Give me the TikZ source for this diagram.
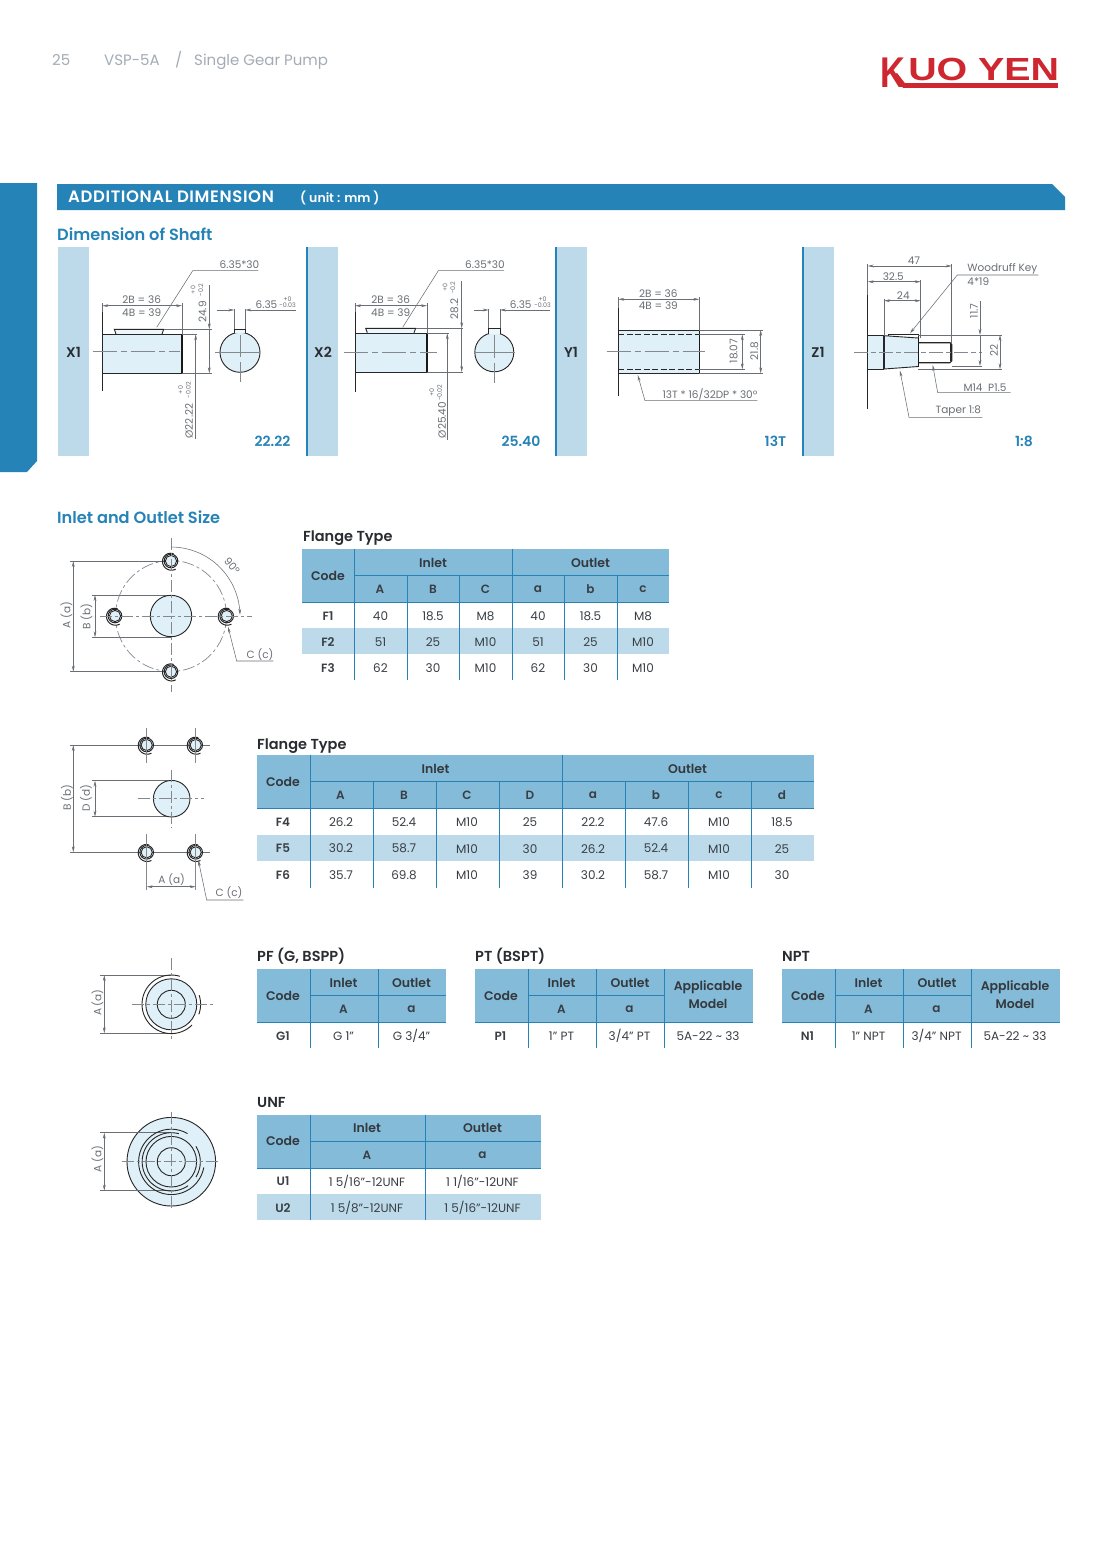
\documentclass[tikz,border=0pt]{standalone}
\usepackage{fontspec}
\usetikzlibrary{arrows.meta}
\setmainfont{Poppins}[BoldFont=* SemiBold]
\newfontfamily\logofont{Liberation Sans}[Scale=1]
\definecolor{deep}{HTML}{2583B7}
\definecolor{hdr}{HTML}{84BBD9}
\definecolor{lite}{HTML}{BCDAE9}
\definecolor{shaft}{HTML}{DFF0F8}
\definecolor{dimc}{HTML}{6A6F75}
\definecolor{cline}{HTML}{85888C}
\definecolor{txtc}{HTML}{3A3F45}
\definecolor{greyt}{HTML}{A3ACB5}
\definecolor{logo}{HTML}{CE2730}
\newcount\nodeno
\newcommand{\fs}[1]{\fontsize{#1}{#1}\selectfont}
% text helper: x, y, style, text
\newcommand{\lab}[4]{\global\advance\nodeno by 1 \node[inner sep=0pt,#3] (t\the\nodeno) at (#1,#2) {#4};}
\newcommand{\dl}[3]{\lab{#1}{#2}{dimt,rotate=90}{#3}}
\newcommand{\spiral}[7][ink]{\draw[#1,smooth] plot[domain=#6:#7,samples=40] ({#2+(#4+(#5-#4)*(\x-#6)/(#7-#6))*cos(\x)},{#3-(#4+(#5-#4)*(\x-#6)/(#7-#6))*sin(\x)});}
\newcommand{\bolt}[2]{%
  \draw[ink,fill=shaft] (#1,#2) circle[radius=5.6];
  \draw[ink,line width=1pt] (#1,#2) circle[radius=6.8];
  \spiral[ink,line width=1pt]{#1}{#2}{7.6}{9.4}{70}{300}
}
\newcommand{\vl}[3]{\draw[tline] (#1,#2)--(#1,#3);}
\newcommand{\hl}[3]{\draw[tline] (#2,#1)--(#3,#1);}
\tikzset{
  ink/.style={black!85,line width=0.9pt},
  thick ink/.style={black!90,line width=1.6pt},
  thin dim/.style={dimc,line width=0.55pt},
  arr/.style={thin dim,-{Stealth[length=6pt,width=2.8pt]}},
  darr/.style={thin dim,{Stealth[length=6pt,width=2.8pt]}-{Stealth[length=6pt,width=2.8pt]}},
  cl/.style={cline,line width=0.8pt,dash pattern=on 24pt off 4pt on 6pt off 4pt},
  cld/.style={cline,line width=0.7pt,dash pattern=on 12pt off 3pt on 3pt off 3pt},
  cls/.style={cline,line width=0.7pt},
  dimt/.style={text=dimc,font=\fs{10.5}},
  tolt/.style={text=dimc,font=\fs{6.3}},
  tline/.style={deep,line width=1pt},
  cell/.style={text=txtc,font=\fs{12},yshift=-0.6pt},
  bcell/.style={text=txtc,font=\fs{12}\bfseries,yshift=-0.6pt},
  head/.style={text=txtc!90!black,font=\fs{12.5}\bfseries},
  sect/.style={anchor=west,text=deep,font=\fs{16.2}\bfseries},
  ttl/.style={anchor=base west,text=txtc!70!black,font=\fs{14.5}\bfseries},
  tag/.style={text=txtc!70!black,font=\fs{14}\bfseries},
  tagb/.style={text=deep,font=\fs{14}\bfseries},
  page/.style={anchor=base west,text=greyt,font=\fs{15}},
}
\begin{document}
\begin{tikzpicture}[x=1pt,y=-1pt]
\useasboundingbox (0,0) rectangle (1102,1559);
\fill[white] (0,0) rectangle (1102,1559);
% page head
\lab{52}{65}{page}{25}
\lab{104}{65}{page}{VSP-5A}
\lab{175}{65}{page}{/}
\lab{194}{65}{page}{Single Gear Pump}
% logo
\fill[logo] (905,83.3) rectangle (1058,87.8);
\fill[logo] (897,73) -- (905,83.3) -- (905,87.8) -- (903,87.8) -- (893,75) -- cycle;
\lab{880}{87.7}{anchor=base west,text=logo,font=\logofont\fs{43}\bfseries,xscale=0.8}{K}
\lab{908}{80.7}{anchor=base west,text=logo,font=\logofont\fs{32}\bfseries,xscale=1.23}{UO YEN}
% banners
\fill[deep] (0,183) -- (37,183) -- (37,461) -- (27,472) -- (0,472) -- cycle;
\fill[deep] (57,184) -- (1052,184) -- (1065,197) -- (1065,210) -- (57,210) -- cycle;
\lab{68}{197}{anchor=west,text=white,font=\fs{16.5}\bfseries\addfontfeatures{LetterSpace=3.8}}{ADDITIONAL DIMENSION}
\lab{300}{197.5}{anchor=west,text=white,font=\fs{12.5}\bfseries}{( unit : mm )}
\lab{57}{234}{sect}{Dimension of Shaft}
\lab{57}{517}{sect}{Inlet and Outlet Size}
% shaft bands
\fill[lite] (58,247) rectangle (89,456);
\fill[lite] (308,247) rectangle (338,456);
\fill[lite] (557,247) rectangle (587,456);
\fill[lite] (804,247) rectangle (834,456);
\draw[deep,line width=1.3pt] (307,247)--(307,456);
\draw[deep,line width=1.3pt] (556,247)--(556,456);
\draw[deep,line width=1.3pt] (803,247)--(803,456);
\lab{73.5}{352}{tag}{X1}
\lab{323}{352}{tag}{X2}
\lab{571}{352}{tag}{Y1}
\lab{818}{352}{tag}{Z1}
\lab{272.5}{441}{tagb}{22.22}
\lab{521}{441}{tagb}{25.40}
\lab{775.5}{441}{tagb}{13T}
\lab{1024}{441}{tagb}{1:8}
%% X1
\fill[shaft] (102.3,334.3) rectangle (182,373.3);
\draw[ink,fill=shaft!60] (116,334) -- (114.3,329.3) -- (163.7,329.3) -- (162,334);
\draw[ink] (102.3,334.3) -- (182,334.3);
\draw[ink] (102.3,373.3) -- (182,373.3);
\draw[thick ink] (182,334.3)--(182,373.3);
\draw[ink] (102.3,311.7)--(102.3,391);
\draw[cl] (92.7,351.7)--(180,351.7);
\draw[thin dim] (102.3,303)--(102.3,311.7);
\draw[thin dim] (182,303)--(182,334.3);
\draw[darr] (102.3,305.7)--(182,305.7);
\lab{141.7}{300}{dimt}{2B = 36}
\lab{141.7}{312.7}{dimt}{4B = 39}
\draw[thin dim] (156.7,327.3)--(192.7,270.7)--(258.3,270.7);
\lab{239.5}{264.5}{dimt}{6.35*30}
\draw[thin dim] (163.7,329.3)--(211.7,329.3);
\draw[thin dim] (182,373.3)--(211.7,373.3);
\draw[thin dim,{Stealth[length=6pt,width=2.8pt]}-] (209.3,329.3)--(209.3,285);
\draw[arr] (209.3,329.3)--(209.3,373.3);
\dl{202.5}{312}{24.9}
\lab{197}{290}{tolt,rotate=90}{\shortstack{+0\\-0.2}}
\draw[thin dim] (182,334.3)--(197,334.3);
\draw[thin dim,{Stealth[length=6pt,width=2.8pt]}-] (195.7,334.3)--(195.7,439.3);
\draw[thin dim] (182,373.3)--(195.7,373.3);
\dl{189}{421}{Ø22.22}
\lab{184.5}{390}{tolt,rotate=90}{\shortstack{+0\\-0.02}}
\draw[ink,fill=shaft] (240,352.3) circle[radius=20];
\draw[ink,fill=shaft!60] (234.3,332.9)--(234.3,329.3)--(245.3,329.3)--(245.3,332.9);
\draw[cls] (240,335)--(240,357);
\draw[cls] (240,362)--(240,382);
\draw[cls] (215,352.3)--(260,352.3);
\draw[thin dim] (234.3,309.3)--(234.3,329.3);
\draw[thin dim] (245.3,309.3)--(245.3,329.3);
\draw[arr] (216.7,310)--(234.3,310);
\draw[arr] (296,310)--(245.3,310);
\lab{266.5}{305}{dimt}{6.35}
\lab{287.5}{299.5}{tolt}{+0}
\lab{287.5}{305.5}{tolt}{-0.03}
%% X2
\fill[shaft] (355,333.3) rectangle (427,372);
\draw[ink,fill=shaft!60] (367.3,332.7) -- (365.7,328.3) -- (415.7,328.3) -- (414,332.7);
\draw[ink] (355,333.3)--(427,333.3);
\draw[ink] (355,372)--(427,372);
\draw[thick ink] (427,333.3)--(427,372);
\draw[ink] (355,311.7)--(355,391.7);
\draw[cl] (344,352)--(437,352);
\draw[thin dim] (355,303)--(355,311.7);
\draw[thin dim] (427,303)--(427,333.3);
\draw[darr] (355,305.7)--(427,305.7);
\lab{390.7}{299.5}{dimt}{2B = 36}
\lab{390.7}{312.5}{dimt}{4B = 39}
\draw[thin dim] (402.7,327.3)--(438.3,270.7)--(504,270.7);
\lab{485}{264.5}{dimt}{6.35*30}
\draw[thin dim] (415.7,328.3)--(463.3,328.3);
\draw[thin dim] (427,372)--(463.3,372);
\draw[thin dim,{Stealth[length=6pt,width=2.8pt]}-] (461.7,328.3)--(461.7,281);
\draw[arr] (461.7,328.3)--(461.7,372);
\dl{454.3}{309}{28.2}
\lab{449}{287.7}{tolt,rotate=90}{\shortstack{+0\\-0.2}}
\draw[thin dim] (427,333.3)--(449,333.3);
\draw[thin dim,{Stealth[length=6pt,width=2.8pt]}-] (447.3,333.3)--(447.3,440);
\draw[thin dim] (427,372)--(447.3,372);
\dl{442}{420}{Ø25.40}
\lab{435.7}{392.7}{tolt,rotate=90}{\shortstack{+0\\-0.02}}
\draw[ink,fill=shaft] (494.3,352.3) circle[radius=19.5];
\draw[ink,fill=shaft!60] (488.7,333.5)--(488.7,328.3)--(500,328.3)--(500,333.5);
\draw[cls] (494.3,335)--(494.3,358);
\draw[cls] (494.3,363)--(494.3,383);
\draw[cls] (474,352.3)--(515,352.3);
\draw[thin dim] (488.7,309.3)--(488.7,328.3);
\draw[thin dim] (500,309.3)--(500,328.3);
\draw[arr] (474,310)--(488.7,310);
\draw[arr] (550,310)--(500,310);
\lab{520.7}{305}{dimt}{6.35}
\lab{542.5}{299.5}{tolt}{+0}
\lab{542.5}{305.5}{tolt}{-0.03}
%% Y1
\fill[shaft] (618.3,330) rectangle (699.3,373.3);
\draw[ink] (618.3,330)--(699.3,330);
\draw[ink] (618.3,373.3)--(699.3,373.3);
\draw[ink,dash pattern=on 6pt off 2.5pt] (618.3,334.3)--(699.3,334.3);
\draw[ink,dash pattern=on 6pt off 2.5pt] (618.3,369.3)--(699.3,369.3);
\draw[thick ink] (699.3,330)--(699.3,373.3);
\draw[ink] (618.3,308.3)--(618.3,396);
\draw[cl] (606.7,351.7)--(705,351.7);
\draw[thin dim] (618.3,297)--(618.3,308.3);
\draw[thin dim] (699.3,297)--(699.3,330);
\draw[darr] (618.3,299.3)--(699.3,299.3);
\lab{658.3}{294}{dimt}{2B = 36}
\lab{658.3}{306}{dimt}{4B = 39}
\draw[thin dim] (699.3,330)--(763.3,330);
\draw[thin dim] (699.3,373.3)--(763.3,373.3);
\draw[thin dim] (699.3,334.3)--(745,334.3);
\draw[thin dim] (699.3,369.3)--(745,369.3);
\draw[darr] (742.3,334.3)--(742.3,369.3);
\draw[darr] (760.7,330)--(760.7,373.3);
\dl{733.5}{351}{18.07}
\dl{754.3}{351}{21.8}
\draw[arr] (757.3,400.7)--(645,400.7)--(637.7,375);
\lab{710}{394}{dimt}{13T * 16/32DP * 30º}
%% Z1
\fill[shaft] (867.7,335.7) rectangle (884,369);
\fill[shaft] (884,335.7) -- (918.3,338) -- (918.3,366.5) -- (884,369) -- cycle;
\draw[ink] (867.7,335.7)--(884,335.7);
\draw[ink] (867.7,369)--(884,369);
\draw[ink,line width=1.1pt] (884,335.7)--(884,369);
\draw[ink] (884,335.7)--(918.3,338);
\draw[ink] (884,369)--(918.3,366.5);
\draw[ink] (888.3,335.7)--(888.3,334.3)--(918.3,334.3)--(918.3,338);
\draw[thick ink] (918.3,338)--(918.3,366.5);
\draw[ink,line width=1.1pt] (918.3,342.7)--(950,342.7)--(951.7,344.5)--(951.7,361)--(950,362.7)--(918.3,362.7);
\draw[ink] (950,344.2)--(950,361.2);
\draw[ink] (867.7,295)--(867.7,409);
\draw[cl,dash pattern=on 14pt off 3pt on 5pt off 3pt] (854,352.3)--(981.7,352.3);
\draw[thin dim] (867.7,264)--(867.7,295);
\draw[thin dim] (951.7,264)--(951.7,342.7);
\draw[thin dim] (920.7,280)--(920.7,338);
\draw[thin dim] (884,299)--(884,335);
\draw[darr] (867.7,266)--(951.7,266);
\draw[darr] (867.7,281.7)--(920.7,281.7);
\draw[darr] (884,300.7)--(920.7,300.7);
\lab{914}{261}{dimt}{47}
\lab{893.3}{277}{dimt}{32.5}
\lab{903.3}{296}{dimt}{24}
\draw[arr] (1038.3,275)--(957.3,275)--(910,333.3);
\lab{1002.3}{269.3}{dimt}{Woodruff Key}
\lab{978.3}{281.7}{dimt}{4*19}
\draw[thin dim] (918.3,335)--(1001.7,335);
\draw[thin dim] (918.3,369.3)--(1001.7,369.3);
\draw[thin dim] (951.7,366)--(982,366);
\draw[thin dim,{Stealth[length=6pt,width=2.8pt]}-] (980,335)--(980,301);
\draw[arr] (980,335)--(980,366);
\dl{974}{311}{11.7}
\draw[darr] (1000,335)--(1000,369.3);
\dl{994}{350.7}{22}
\draw[arr] (1010.7,392.7)--(937.7,392.7)--(932.7,365);
\lab{985}{387.3}{dimt}{M14\ \ P1.5}
\draw[arr] (982.3,417.3)--(909,417.3)--(900,370.7);
\lab{958.3}{411}{dimt}{Taper 1:8}
%% Flange view 1
\draw[cld] (171,616) circle[radius=55.5];
\draw[thin dim] (70,561)--(171,561);
\draw[thin dim] (70,671.7)--(171,671.7);
\draw[thin dim] (91.7,595)--(171,595);
\draw[thin dim] (91.7,637.3)--(171,637.3);
\draw[darr] (73.3,561)--(73.3,671.7);
\draw[darr] (95,595)--(95,637.3);
\dl{66.5}{615}{A (a)}
\dl{86.5}{617}{B (b)}
\draw[ink,fill=shaft] (171,616) circle[radius=20.7];
\bolt{171}{561}\bolt{115}{616}\bolt{226.7}{616}\bolt{171}{671.7}
\draw[cld] (171,538)--(171,692);
\draw[cld] (100,616)--(251.7,616);
\draw[arr,smooth] plot[domain=90:1,samples=30] ({171+69*cos(\x)},{616-69*sin(\x)});
\lab{232}{565.5}{dimt,rotate=-50}{90º}
\draw[arr] (273.3,661)--(236.7,661)--(228,626.7);
\lab{260}{654.5}{dimt}{C (c)}
%% Flange view 2
\draw[thin dim] (70,745)--(210,745);
\draw[thin dim] (70,852.3)--(210,852.3);
\draw[thin dim] (91.7,780.7)--(171.7,780.7);
\draw[thin dim] (91.7,816.7)--(171.7,816.7);
\draw[darr] (73.3,745)--(73.3,852.3);
\draw[darr] (95,780.7)--(95,816.7);
\dl{67}{798}{B (b)}
\dl{86}{798}{D (d)}
\draw[ink,fill=shaft] (171.7,798.7) circle[radius=18.3];
\bolt{146.7}{745}\bolt{195.7}{745}\bolt{146.7}{852.3}\bolt{195.7}{852.3}
\draw[cls] (146.7,728)--(146.7,763);
\draw[cls] (195.7,728)--(195.7,763);
\draw[cls] (146.7,834)--(146.7,890);
\draw[cls] (195.7,834)--(195.7,890);
\draw[cld] (171.7,770)--(171.7,828);
\draw[cld] (138,798.7)--(204,798.7);
\draw[darr] (146.7,886.7)--(195.7,886.7);
\lab{171.7}{879.5}{dimt}{A (a)}
\draw[arr] (243.3,900)--(206.7,900)--(198.3,860);
\lab{229}{892.7}{dimt}{C (c)}
%% G port
\draw[thin dim] (100,975)--(171.3,975);
\draw[thin dim] (100,1033.3)--(171.3,1033.3);
\draw[darr] (104.3,975)--(104.3,1033.3);
\dl{97.5}{1002.7}{A (a)}
\draw[ink,fill=shaft] (171.3,1004.3) circle[radius=25.5];
\draw[ink] (171.3,1004.3) circle[radius=14];
\spiral{171.3}{1004.3}{29.3}{29.3}{73}{315}
\spiral{171.3}{1004.3}{29.3}{29.3}{-20}{18}
\draw[cld] (171.3,958)--(171.3,1040.7);
\draw[cld] (131.7,1004.3)--(213.3,1004.3);
%% U port
\draw[ink,fill=shaft] (171.3,1161.7) circle[radius=44.3];
\draw[thin dim] (100,1132.7)--(171.3,1132.7);
\draw[thin dim] (100,1190.7)--(171.3,1190.7);
\draw[darr] (104.3,1132.7)--(104.3,1190.7);
\dl{97.5}{1159}{A (a)}
\draw[ink] (171.3,1161.7) circle[radius=25.3];
\draw[ink] (171.3,1161.7) circle[radius=14];
\spiral{171.3}{1161.7}{29}{29.3}{75}{305}
\spiral{171.3}{1161.7}{29}{29}{-32}{32}
\spiral{171.3}{1161.7}{32.5}{33}{60}{350}
\draw[cld] (171.3,1111.7)--(171.3,1208);
\draw[cld] (121.7,1161.7)--(220,1161.7);
%% Table 1
\lab{303}{541}{ttl}{Flange Type}
\fill[hdr] (302,549) rectangle (669,602);
\fill[lite] (302,628) rectangle (669,654);
\hl{575.5}{354}{669}\hl{602}{302}{669}
\vl{354}{549}{680}\vl{512}{549}{680}
\foreach \x in {407,459,564,617} {\vl{\x}{576}{680}}
\lab{328}{575.5}{head}{Code}
\lab{433}{562.5}{head}{Inlet}
\lab{590.5}{562.5}{head}{Outlet}
\lab{380}{589}{bcell}{A}\lab{433}{589}{bcell}{B}\lab{485.5}{589}{bcell}{C}
\lab{538}{589}{bcell}{a}\lab{590.5}{589}{bcell}{b}\lab{643}{589}{bcell}{c}
\lab{328}{615.5}{bcell}{F1}\lab{380.5}{615.5}{cell}{40}\lab{433}{615.5}{cell}{18.5}\lab{485.5}{615.5}{cell}{M8}\lab{538}{615.5}{cell}{40}\lab{590.5}{615.5}{cell}{18.5}\lab{643}{615.5}{cell}{M8}
\lab{328}{641.5}{bcell}{F2}\lab{380.5}{641.5}{cell}{51}\lab{433}{641.5}{cell}{25}\lab{485.5}{641.5}{cell}{M10}\lab{538}{641.5}{cell}{51}\lab{590.5}{641.5}{cell}{25}\lab{643}{641.5}{cell}{M10}
\lab{328}{667.5}{bcell}{F3}\lab{380.5}{667.5}{cell}{62}\lab{433}{667.5}{cell}{30}\lab{485.5}{667.5}{cell}{M10}\lab{538}{667.5}{cell}{62}\lab{590.5}{667.5}{cell}{30}\lab{643}{667.5}{cell}{M10}
%% Table 2
\lab{257}{749}{ttl}{Flange Type}
\fill[hdr] (257,755) rectangle (814,808);
\fill[lite] (257,835) rectangle (814,861);
\hl{781.5}{310}{814}\hl{808}{257}{814}
\vl{310}{755}{888}\vl{562}{755}{888}
\foreach \x in {373,436,499,625,688,751} {\vl{\x}{782}{888}}
\lab{283}{781.5}{head}{Code}
\lab{435.5}{768.5}{head}{Inlet}
\lab{687.5}{768.5}{head}{Outlet}
\lab{340.5}{795}{bcell}{A}\lab{404}{795}{bcell}{B}\lab{467}{795}{bcell}{C}\lab{530}{795}{bcell}{D}
\lab{593}{795}{bcell}{a}\lab{656}{795}{bcell}{b}\lab{719}{795}{bcell}{c}\lab{782}{795}{bcell}{d}
\lab{283}{821.5}{bcell}{F4}\lab{341}{821.5}{cell}{26.2}\lab{404}{821.5}{cell}{52.4}\lab{467}{821.5}{cell}{M10}\lab{530}{821.5}{cell}{25}\lab{593}{821.5}{cell}{22.2}\lab{656}{821.5}{cell}{47.6}\lab{719}{821.5}{cell}{M10}\lab{782}{821.5}{cell}{18.5}
\lab{283}{848}{bcell}{F5}\lab{341}{848}{cell}{30.2}\lab{404}{848}{cell}{58.7}\lab{467}{848}{cell}{M10}\lab{530}{848}{cell}{30}\lab{593}{848}{cell}{26.2}\lab{656}{848}{cell}{52.4}\lab{719}{848}{cell}{M10}\lab{782}{848}{cell}{25}
\lab{283}{874.5}{bcell}{F6}\lab{341}{874.5}{cell}{35.7}\lab{404}{874.5}{cell}{69.8}\lab{467}{874.5}{cell}{M10}\lab{530}{874.5}{cell}{39}\lab{593}{874.5}{cell}{30.2}\lab{656}{874.5}{cell}{58.7}\lab{719}{874.5}{cell}{M10}\lab{782}{874.5}{cell}{30}
%% PF
\lab{257}{961}{ttl}{PF (G, BSPP)}
\fill[hdr] (257,969) rectangle (446,1022);
\hl{995.5}{310}{446}\hl{1022}{257}{446}
\vl{310}{969}{1048}\vl{378}{969}{1048}
\lab{283}{995.5}{head}{Code}
\lab{343.5}{982.5}{head}{Inlet}
\lab{411.5}{982.5}{head}{Outlet}
\lab{343.5}{1009}{bcell}{A}\lab{411.5}{1009}{bcell}{a}
\lab{283}{1035.5}{bcell}{G1}\lab{343.5}{1035.5}{cell}{G 1"}\lab{411.5}{1035.5}{cell}{G 3/4"}
%% PT
\lab{475}{961}{ttl}{PT (BSPT)}
\fill[hdr] (475,969) rectangle (753,1022);
\hl{995.5}{528}{664}\hl{1022}{475}{753}
\vl{528}{969}{1048}\vl{596}{969}{1048}\vl{664}{969}{1048}
\lab{501}{995.5}{head}{Code}
\lab{561.5}{982.5}{head}{Inlet}
\lab{630}{982.5}{head}{Outlet}
\lab{708}{987}{head}{Applicable}
\lab{708}{1004}{head}{Model}
\lab{561.5}{1009}{bcell}{A}\lab{629.5}{1009}{bcell}{a}
\lab{500.5}{1035.5}{bcell}{P1}\lab{561.5}{1035.5}{cell}{1" PT}\lab{629.5}{1035.5}{cell}{3/4" PT}\lab{708}{1035.5}{cell}{5A-22 \textasciitilde{} 33}
%% NPT
\lab{782}{961}{ttl}{NPT}
\fill[hdr] (782,969) rectangle (1060,1022);
\hl{995.5}{835}{971}\hl{1022}{782}{1060}
\vl{835}{969}{1048}\vl{903}{969}{1048}\vl{971}{969}{1048}
\lab{808}{995.5}{head}{Code}
\lab{868.5}{982.5}{head}{Inlet}
\lab{937}{982.5}{head}{Outlet}
\lab{1015}{987}{head}{Applicable}
\lab{1015}{1004}{head}{Model}
\lab{868.5}{1009}{bcell}{A}\lab{936.5}{1009}{bcell}{a}
\lab{807.5}{1035.5}{bcell}{N1}\lab{868.5}{1035.5}{cell}{1" NPT}\lab{936.5}{1035.5}{cell}{3/4" NPT}\lab{1015}{1035.5}{cell}{5A-22 \textasciitilde{} 33}
%% UNF
\lab{257}{1107}{ttl}{UNF}
\fill[hdr] (257,1115) rectangle (541,1168);
\fill[lite] (257,1194) rectangle (541,1220);
\hl{1141.5}{310}{541}\hl{1168}{257}{541}
\vl{310}{1115}{1220}\vl{425}{1115}{1220}
\lab{283}{1141}{head}{Code}
\lab{367}{1128}{head}{Inlet}
\lab{482.5}{1128}{head}{Outlet}
\lab{367}{1155}{bcell}{A}\lab{482.5}{1155}{bcell}{a}
\lab{283}{1181}{bcell}{U1}\lab{367}{1181}{cell}{1 5/16"-12UNF}\lab{482.5}{1181}{cell}{1 1/16"-12UNF}
\lab{283}{1207}{bcell}{U2}\lab{367}{1207}{cell}{1 5/8"-12UNF}\lab{482.5}{1207}{cell}{1 5/16"-12UNF}
\end{tikzpicture}
\end{document}
